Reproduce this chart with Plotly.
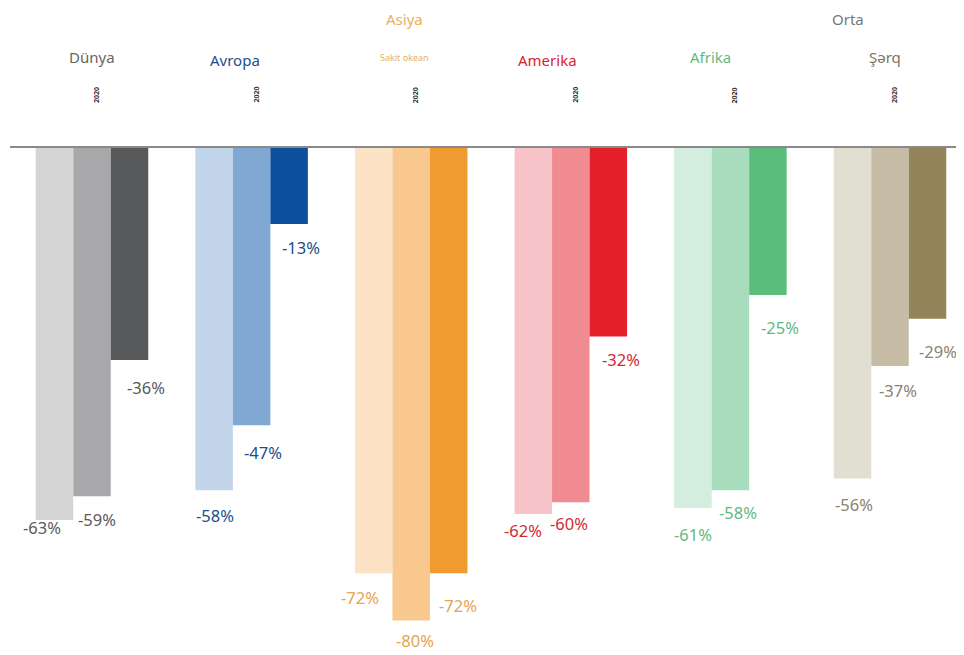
import plotly.graph_objects as go

regions = ["Dünya", "Avropa", "Asiya Sakit okean", "Amerika", "Afrika", "Orta Şərq"]
series_a = [-63, -58, -72, -62, -61, -56]
series_b = [-59, -47, -80, -60, -58, -37]
series_c = [-36, -13, -72, -32, -25, -29]

colors_a = ["#d5d5d6", "#c2d5ea", "#fde3c6", "#f6c4c8", "#d3edde", "#e1ded2"]
colors_b = ["#a8a8aa", "#80a8d2", "#f8c88f", "#f08b91", "#a9dcbd", "#c6bca6"]
colors_c = ["#58595b", "#0c4f9c", "#f09b2f", "#e3202a", "#5bbd7c", "#948459"]
label_colors = ["#5a5a5c", "#1b4f8c", "#e5a450", "#d22a33", "#5fba80", "#8a8272"]

W, H = 964, 655
OFF = 8  # page body margin
px_per_unit = 5.92
base_px = 147 - OFF
group_px = 159.6
first_center = 92 - OFF
bar_px = 37.5

x_lo = -first_center / group_px
x_hi = x_lo + W / group_px
y_hi = base_px / px_per_unit
y_lo = -(H - base_px) / px_per_unit

fig = go.Figure()
for vals, cols in [(series_a, colors_a), (series_b, colors_b), (series_c, colors_c)]:
    fig.add_trace(go.Bar(x=regions, y=vals, marker=dict(color=cols, line=dict(width=0)),
                         showlegend=False, hoverinfo="skip"))

# value label offsets (px)
dx = [[-13, 5, 16], [1, 11, 12], [-14, 4, 9], [-10, -2, 13], [0, 8, 12], [1, 8, 10]]
dy = [[8, 23, 27], [25, 27, 24], [24, 20, 32], [16, 21, 23], [26, 22, 32], [26, 24, 33]]

ann = []
for g, reg in enumerate(regions):
    for i, vals in enumerate([series_a, series_b, series_c]):
        v = vals[g]
        ann.append(dict(x=reg, y=v, xref="x", yref="y", text=f"{v}%", showarrow=False,
                        xshift=(i - 1) * bar_px + dx[g][i], yshift=-dy[g][i],
                        font=dict(family="Noto Sans", size=16.5, color=label_colors[g]),
                        xanchor="center", yanchor="middle"))

header_font = "Noto Sans"
headers = [
    ("Dünya", 0, 0, 57, 15, "#666666"),
    ("Avropa", 1, -17, 60, 15, "#1f4e8c"),
    ("Asiya", 2, -7, 19, 15, "#e8b060"),
    ("Sakit okean", 2, -7, 57, 9, "#e8b060"),
    ("Amerika", 3, -23, 60, 15, "#d8232c"),
    ("Afrika", 4, -20, 57, 15, "#5fba80"),
    ("Orta", 5, -42, 19, 15, "#777777"),
    ("Şərq", 5, -5, 57, 15, "#7d7565"),
]
for txt, g, xs, ypx, size, col in headers:
    ann.append(dict(x=regions[g], y=1 - (ypx - OFF) / H, xref="x", yref="paper", text=txt,
                    showarrow=False, xshift=xs, font=dict(family=header_font, size=size, color=col),
                    xanchor="center", yanchor="middle"))
for g, reg in enumerate(regions):
    ann.append(dict(x=reg, y=1 - (95 - OFF) / H, xref="x", yref="paper", text="<b>2020</b>", textangle=-90,
                    showarrow=False, xshift=4, font=dict(family="Noto Sans", size=7, color="#333333"),
                    xanchor="center", yanchor="middle"))

fig.update_layout(
    width=W, height=H, barmode="group", bargap=0.295, bargroupgap=0,
    margin=dict(l=0, r=0, t=0, b=0),
    paper_bgcolor="white", plot_bgcolor="white",
    xaxis=dict(range=[x_lo, x_hi], visible=False),
    yaxis=dict(range=[y_lo, y_hi], visible=False, zeroline=False),
    annotations=ann,
    shapes=[dict(type="line", xref="paper", yref="y", x0=2 / W, x1=1, y0=0, y1=0,
                 line=dict(color="#8a8a8a", width=2), layer="above")],
)
fig.write_html("out.html")
